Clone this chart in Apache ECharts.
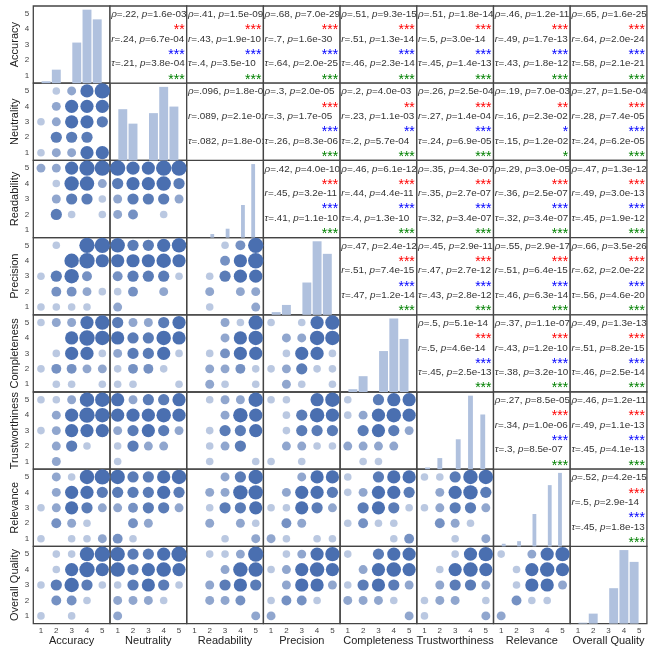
<!DOCTYPE html>
<html><head><meta charset="utf-8">
<script src="https://cdn.jsdelivr.net/npm/echarts@6/dist/echarts.min.js"></script>
<style>html,body{margin:0;padding:0;background:#fff}#c{width:652px;height:647px}</style>
</head><body><div id="c"></div>
<script>
const variables = ['Accuracy','Neutrality','Readability','Precision','Completeness','Trustworthiness','Relevance','Overall Quality'];
const tickLabels = [1,2,3,4,5];

// Diagonal histograms: counts per bin, bins spread evenly over the range
const histAccuracy        = [2,14,0,42,76,66];
const histNeutrality      = [39,28,0,36,56,41];
const histReadability     = [6,0,0,15,0,0,55,0,124];
const histPrecision       = [3,11,0,36,82,68];
const histCompleteness    = [3,17,0,44,79,57];
const histTrustworthiness = [2,0,13,0,0,35,0,86,0,64];
const histRelevance       = [3,0,0,6,0,0,37,0,0,70,0,84];
const histOverall         = [1,11,0,39,81,68];
const histRanges = [[1,5],[1,5],[2,5],[1,5],[1,5],[1,5],[1,5],[1,5]];

// Lower triangle: estimated number of responses per (x,y) score pair.
// rows: y = 5,4,3,2,1 ; columns: x = 1..5
const neutralityVsAccuracy = [[0,1,2,10,20],[0,2,10,10,10],[1,2,10,10,5],[0,5,5,5,0],[1,2,2,10,10]];
const readabilityVsAccuracy = [[2,2,10,20,20],[0,1,15,15,2],[0,2,5,5,1],[0,5,1,0,1],[0,0,0,0,0]];
const readabilityVsNeutrality = [[20,10,10,20,20],[5,10,10,15,5],[2,5,5,5,2],[2,3,0,1,0],[0,0,0,0,0]];
const precisionVsAccuracy = [[0,1,0,20,20],[0,0,15,20,10],[1,5,15,3,0],[0,3,3,2,1],[1,1,1,1,0]];
const precisionVsNeutrality = [[15,5,5,10,15],[10,10,10,15,10],[3,5,5,5,1],[1,3,0,2,0],[2,0,0,0,0]];
const precisionVsReadability = [[0,0,1,3,20],[0,0,3,10,20],[0,1,5,10,10],[0,2,0,2,2],[0,1,0,0,2]];
const completenessVsAccuracy = [[1,2,2,10,15],[0,0,10,20,15],[0,1,10,10,1],[1,3,3,2,2],[0,1,1,0,1]];
const completenessVsNeutrality = [[5,2,2,5,10],[10,5,5,15,10],[2,5,5,10,1],[1,3,3,1,0],[1,1,0,0,1]];
const completenessVsReadability = [[0,0,2,1,15],[0,0,2,10,15],[0,1,3,10,10],[0,2,2,3,1],[0,2,1,0,1]];
const completenessVsPrecision = [[1,0,1,10,15],[0,2,2,15,15],[0,1,10,10,1],[1,2,5,1,1],[0,2,1,0,1]];
const trustVsAccuracy = [[1,1,2,15,15],[0,2,10,20,15],[1,2,10,10,10],[0,2,5,1,0],[0,2,0,0,0]];
const trustVsNeutrality = [[10,2,5,5,10],[10,10,10,15,10],[2,5,10,5,2],[1,5,2,2,0],[1,0,0,0,0]];
const trustVsReadability = [[0,1,2,2,15],[0,0,2,15,10],[0,1,5,5,10],[0,1,2,5,0],[0,1,0,0,1]];
const trustVsPrecision = [[1,1,0,10,15],[0,1,5,15,10],[0,1,5,5,5],[0,2,2,1,1],[1,0,1,0,0]];
const trustVsCompleteness = [[1,0,5,10,10],[1,2,10,15,10],[0,5,10,5,2],[2,2,2,2,0],[0,1,1,0,0]];
const relevanceVsAccuracy = [[0,2,1,15,20],[0,2,10,10,5],[1,2,10,5,2],[0,3,2,1,0],[1,0,1,1,2]];
const relevanceVsNeutrality = [[15,5,5,10,15],[5,5,5,10,5],[2,3,5,5,2],[0,3,2,0,0],[3,1,0,0,0]];
const relevanceVsReadability = [[0,0,2,5,15],[0,2,2,15,15],[0,1,5,5,10],[0,2,0,2,1],[0,0,1,0,2]];
const relevanceVsPrecision = [[0,0,2,10,10],[0,2,10,10,5],[1,1,10,5,2],[0,3,2,0,0],[2,1,0,1,1]];
const relevanceVsCompleteness = [[1,0,5,10,10],[1,2,10,10,5],[0,5,10,5,1],[1,3,1,1,0],[0,0,0,1,3]];
const relevanceVsTrust = [[1,1,5,15,15],[0,2,10,15,5],[1,2,5,5,2],[0,3,2,1,0],[0,0,1,0,2]];
const overallVsAccuracy = [[0,1,1,15,20],[0,1,10,20,10],[1,5,15,5,1],[0,3,3,1,0],[1,0,1,0,0]];
const overallVsNeutrality = [[15,5,5,10,20],[15,5,10,15,10],[1,5,10,5,1],[2,2,2,1,0],[2,0,0,0,0]];
const overallVsReadability = [[0,1,1,2,20],[0,0,2,15,15],[0,2,5,10,5],[0,2,2,3,0],[0,0,0,0,2]];
const overallVsPrecision = [[0,1,2,10,15],[1,2,10,15,10],[0,2,10,10,2],[1,3,3,1,0],[2,0,0,0,0]];
const overallVsCompleteness = [[1,0,5,10,10],[0,2,10,15,10],[1,5,10,5,2],[2,2,2,1,0],[0,0,0,0,2]];
const overallVsTrust = [[0,0,1,10,15],[0,1,10,15,10],[0,2,5,5,2],[1,2,2,0,1],[1,0,0,0,2]];
const overallVsRelevance = [[1,0,2,10,15],[0,1,10,15,10],[0,1,10,10,2],[0,3,1,1,0],[2,0,0,0,0]];

// Upper triangle statistics, pairs (i<j) in reading order: "coefficient|p-value"
const rhoStats = ['.22|1.6e-03','.41|1.5e-09','.68|7.0e-29','.51|9.3e-15','.51|1.8e-14','.46|1.2e-11','.65|1.6e-25',
  '.096|1.8e-01','.3|2.0e-05','.2|4.0e-03','.26|2.5e-04','.19|7.0e-03','.27|1.5e-04',
  '.42|4.0e-10','.46|6.1e-12','.35|4.3e-07','.29|3.0e-05','.47|1.3e-12',
  '.47|2.4e-12','.45|2.9e-11','.55|2.9e-17','.66|3.5e-26',
  '.5|5.1e-14','.37|1.1e-07','.49|1.3e-13',
  '.27|8.5e-05','.46|1.2e-11',
  '.52|4.2e-15'];
const pearsonStats = ['.24|6.7e-04','.43|1.9e-10','.7|1.6e-30','.51|1.3e-14','.5|3.0e-14','.49|1.7e-13','.64|2.0e-24',
  '.089|2.1e-01','.3|1.7e-05','.23|1.1e-03','.27|1.4e-04','.16|2.3e-02','.28|7.4e-05',
  '.45|3.2e-11','.44|4.4e-11','.35|2.7e-07','.36|2.5e-07','.49|3.0e-13',
  '.51|7.4e-15','.47|2.7e-12','.51|6.4e-15','.62|2.0e-22',
  '.5|4.6e-14','.43|1.2e-10','.51|8.2e-15',
  '.34|1.0e-06','.49|1.1e-13',
  '.5|2.9e-14'];
const tauStats = ['.21|3.8e-04','.4|3.5e-10','.64|2.0e-25','.46|2.3e-14','.45|1.4e-13','.43|1.8e-12','.58|2.1e-21',
  '.082|1.8e-01','.26|8.3e-06','.2|5.7e-04','.24|6.9e-05','.15|1.2e-02','.24|6.2e-05',
  '.41|1.1e-10','.4|1.3e-10','.32|3.4e-07','.32|3.4e-07','.45|1.9e-12',
  '.47|1.2e-14','.43|2.8e-12','.46|6.3e-14','.56|4.6e-20',
  '.45|2.5e-13','.38|3.2e-10','.46|2.5e-14',
  '.3|8.5e-07','.45|4.1e-13',
  '.45|1.8e-13'];

const histCounts = [histAccuracy,histNeutrality,histReadability,histPrecision,histCompleteness,histTrustworthiness,histRelevance,histOverall];
const lowerCells = {
  '1,0':neutralityVsAccuracy,
  '2,0':readabilityVsAccuracy,'2,1':readabilityVsNeutrality,
  '3,0':precisionVsAccuracy,'3,1':precisionVsNeutrality,'3,2':precisionVsReadability,
  '4,0':completenessVsAccuracy,'4,1':completenessVsNeutrality,'4,2':completenessVsReadability,'4,3':completenessVsPrecision,
  '5,0':trustVsAccuracy,'5,1':trustVsNeutrality,'5,2':trustVsReadability,'5,3':trustVsPrecision,'5,4':trustVsCompleteness,
  '6,0':relevanceVsAccuracy,'6,1':relevanceVsNeutrality,'6,2':relevanceVsReadability,'6,3':relevanceVsPrecision,'6,4':relevanceVsCompleteness,'6,5':relevanceVsTrust,
  '7,0':overallVsAccuracy,'7,1':overallVsNeutrality,'7,2':overallVsReadability,'7,3':overallVsPrecision,'7,4':overallVsCompleteness,'7,5':overallVsTrust,'7,6':overallVsRelevance
};

// ---------- layout & style ----------
const FONT = "'Liberation Sans', Arial, sans-serif";
const L = 33.3, T = 6, W = 76.7, H = 77.2;
const N = variables.length;
const DOT = '#4a6fb0', BAR = '#b0c1de', FRAME = '#444';
const AX_MIN = 0.5, AX_MAX = 5.5;

const grids = [], xAxes = [], yAxes = [], series = [], graphics = [];
const labelFmt = v => (Math.abs(v - Math.round(v)) < 1e-6 && tickLabels.indexOf(Math.round(v)) >= 0) ? String(Math.round(v)) : '';
const tickLabelStyle = (margin) => ({show:true, formatter:labelFmt, margin, fontSize:8, color:'#444', fontFamily:FONT});
const nameStyle = {fontSize:11, color:'#222', fontFamily:FONT};

function scoreAxis(k, showLabels, name, isY) {
  const ax = {type:'value', gridIndex:k, min:AX_MIN, max:AX_MAX, interval:0.5,
    position: isY ? 'left' : 'bottom',
    axisLine:{show:false}, axisTick:{show:false}, splitLine:{show:false},
    axisLabel: showLabels ? tickLabelStyle(isY ? 4 : 3) : {show:false}};
  if (name) {
    ax.name = name; ax.nameLocation = 'middle'; ax.nameTextStyle = nameStyle;
    ax.nameGap = isY ? 5.5 : 11;
    if (isY) ax.nameRotate = 90;
  }
  return ax;
}

for (let i = 0; i < N; i++) {
  for (let j = 0; j < N; j++) {
    const x0 = L + j * W, y0 = T + i * H;
    if (j > i) continue;
    const k = grids.length;
    grids.push({left:x0, top:y0, width:W, height:H, show:true, borderColor:FRAME, borderWidth:1.3,
      backgroundColor:'rgba(0,0,0,0)', containLabel:false, outerBoundsMode:'none'});
    xAxes.push(scoreAxis(k, i === N - 1, i === N - 1 ? variables[j] : null, false));
    if (i === j) {
      const counts = histCounts[i];
      const maxC = Math.max.apply(null, counts);
      const yIdx = yAxes.length;
      yAxes.push({type:'value', gridIndex:k, min:0, max:maxC * 1.05, show:false, position:'right'});
      if (j === 0) yAxes.push(scoreAxis(k, true, variables[i], true));
      const [a, b] = histRanges[i];
      const bw = (b - a) / counts.length;
      const data = [];
      counts.forEach((c, n) => { if (c > 0) data.push([a + n * bw, a + (n + 1) * bw, c]); });
      series.push({type:'custom', xAxisIndex:k, yAxisIndex:yIdx, silent:true, animation:false,
        encode:{x:[0,1], y:2}, data,
        renderItem:(params, api) => {
          const p0 = api.coord([api.value(0), api.value(2)]);
          const p1 = api.coord([api.value(1), 0]);
          return {type:'rect', shape:{x:p0[0] + 0.65, y:p0[1], width:p1[0] - p0[0] - 1.3, height:p1[1] - p0[1]},
            style:{fill:BAR}};
        }});
    } else {
      const yIdx = yAxes.length;
      yAxes.push(scoreAxis(k, j === 0, j === 0 ? variables[i] : null, true));
      const m = lowerCells[i + ',' + j];
      const data = [];
      m.forEach((row, r) => row.forEach((c, cx) => {
        if (c > 0) data.push({value:[cx + 1, 5 - r, c], itemStyle:{opacity: 1 - Math.pow(0.62, c)}});
      }));
      data.sort((p, q) => p.value[2] - q.value[2]);
      series.push({type:'scatter', xAxisIndex:k, yAxisIndex:yIdx, silent:true, animation:false,
        data, symbolSize: v => 5.3 + 3.3 * Math.log(1 + v[2]),
        itemStyle:{color:DOT}});
    }
  }
}

// upper triangle: statistic texts
const starsFor = p => p < 0.001 ? '***' : p < 0.01 ? '**' : p < 0.05 ? '*' : '';
const statDefs = [
  {sym:'ρ', list:rhoStats, color:'#ff0000'},
  {sym:'r', list:pearsonStats, color:'#0000ff'},
  {sym:'τ', list:tauStats, color:'#008000'}
];
let pairIdx = 0;
for (let i = 0; i < N; i++) {
  for (let j = i + 1; j < N; j++) {
    const x0 = L + j * W, y0 = T + i * H;
    graphics.push({type:'rect', z:10 + 2 * j, silent:true,
      shape:{x:x0, y:y0, width:W, height:H},
      style:{fill:'#fff', stroke:FRAME, lineWidth:1.3}});
    statDefs.forEach((d, s) => {
      const [coef, pv] = d.list[pairIdx].split('|');
      graphics.push({type:'text', z:11 + 2 * j, silent:true, x:x0 + 1.2, y:y0 + 8.5 + s * 24.6,
        style:{text:'{i|' + d.sym + '}=' + coef + ', {i|p}=' + pv, fill:'#333', fontSize:9.9, fontFamily:FONT,
          verticalAlign:'middle', align:'left',
          rich:{i:{fontStyle:'italic', fill:'#333', fontSize:9.9, fontFamily:FONT}}}});
      graphics.push({type:'text', z:11 + 2 * j, silent:true, x:x0 + W - 2, y:y0 + 24.5 + s * 24.6,
        style:{text:starsFor(parseFloat(pv)), fill:d.color, fontSize:14, fontFamily:FONT,
          verticalAlign:'middle', align:'right'}});
    });
    pairIdx++;
  }
}

const chart = echarts.init(document.getElementById('c'), null, {renderer:'canvas'});
chart.setOption({
  animation:false,
  backgroundColor:'#fff',
  grid:grids, xAxis:xAxes, yAxis:yAxes, series,
  graphic:{elements:graphics}
});
</script>
</body></html>
